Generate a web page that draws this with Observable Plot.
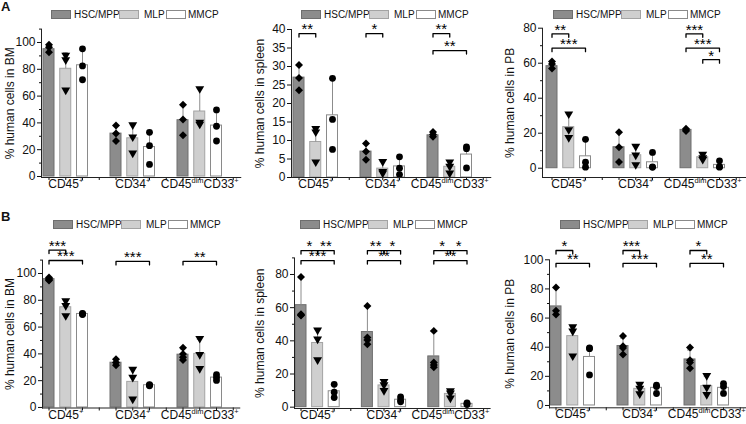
<!DOCTYPE html>
<html>
<head>
<meta charset="utf-8">
<script src="https://cdn.jsdelivr.net/npm/d3@7"></script>
<script src="https://cdn.jsdelivr.net/npm/@observablehq/plot@0.6"></script>
<style>
  html, body { margin: 0; padding: 0; background: #fff; overflow: hidden; }
  #root { position: relative; width: 746px; height: 424px; overflow: hidden; font-family: "Liberation Sans", Arial, sans-serif; color: #111; }
  .panel { position: absolute; }
  .panel svg { position: absolute; left: 0; top: 0; overflow: visible; }
  .legend { position: absolute; height: 10px; font-size: 10px; }
  .legend .sw { position: absolute; top: 0; width: 20px; height: 9px; box-sizing: border-box; border: 1px solid #888; }
  .legend .tx { position: absolute; top: -1px; line-height: 11px; white-space: nowrap; }
  .tag { position: absolute; font-weight: bold; font-size: 13px; line-height: 13px; }
</style>
</head>
<body>
<div id="root"></div>
<script>
// ---------- data ----------
const groups = ["CD45^+", "CD34^+", "CD45^dim^CD33^+"];
const series = ["HSC/MPP", "MLP", "MMCP"];

// Panel A — BM
const bmA_mean = [[95, 80.4, 83], [32, 28.5, 22], [42, 48.5, 38]];
const bmA_sd = [[3, 12, 11.5], [6, 10, 12], [11, 17, 12]];
const bmA_pts = [
  [[98.3, 96.5, 92.8], [90.5, 87, 64.5], [95.3, 82.5, 72.2]],
  [[38, 32, 26.5], [38.5, 29.5, 17.5], [33, 23, 9]],
  [[53.5, 42.5, 30.8], [65.5, 40.5, 39], [49.7, 37.5, 26.5]]
];
// Panel A — spleen
const spA_mean = [[27, 9.6, 16.8], [7, 2.4, 3], [11.4, 2.9, 6.2]];
const spA_sd = [[3.4, 3.4, 10], [2.2, 2, 2.7], [0.8, 1.6, 2.5]];
const spA_pts = [
  [[30.4, 26.9, 23.6], [13.2, 12.3, 4.2], [26.8, 15.7, 7.6]],
  [[9.2, 7, 4.8], [4.3, 1.6, 1.2], [5.6, 2.5, 0.8]],
  [[12.3, 11.6, 11], [4.2, 3, 1.2], [8.3, 7.8, 2.6]]
];
const spA_brackets = [[0, 0, 1, 38.9, "**"], [1, 0, 1, 38.9, "*"], [2, 0, 1, 38.9, "**"], [2, 0, 2, 34.3, "**"]];
// Panel A — PB
const pbA_mean = [[58.3, 23.5, 6.8], [12, 7.4, 3.4], [21.9, 6.3, 1.9]];
const pbA_sd = [[2.5, 7.5, 9.8], [8.5, 5.4, 5], [0.6, 1.6, 2.2]];
const pbA_pts = [
  [[61, 59.5, 57], [31, 22, 17.5], [16.5, 3.4, 0.6]],
  [[20.5, 12, 3.5], [12.5, 7.5, 2], [9, 0.8, 0.5]],
  [[22.6, 21.9, 21.3], [8, 6, 5], [4.2, 0.9, 0.6]]
];
const pbA_brackets = [[0, 0, 1, 76.8, "**"], [0, 0, 2, 68.6, "***"], [2, 0, 1, 76.8, "***"], [2, 0, 2, 68.6, "***"], [2, 1, 2, 62, "*"]];

// Panel B — BM
const bmB_mean = [[95.8, 74.8, 69.8], [33.4, 19.1, 16.6], [39.4, 40, 22.3]];
const bmB_sd = [[0.8, 5.5, 0.5], [2, 10.5, 0.5], [4.2, 11, 1.8]];
const bmB_pts = [
  [[97, 96, 95.3, 94.8], [79.7, 76, 68.5], [70.2, 69.8, 69.4]],
  [[36, 33.5, 31.5], [28.5, 22.5, 6.3], [17, 16.6, 16.2]],
  [[44.5, 40, 37.5, 35.5], [51.5, 39.5, 29], [24.5, 22.3, 20.2]]
];
const bmB_brackets = [[0, 0, 1, 117.5, "***"], [0, 0, 2, 109.7, "***"], [1, 0, 2, 109, "***"], [2, 0, 2, 109, "**"]];
// Panel B — spleen
const spB_mean = [[61.5, 38.7, 9.6], [45.3, 13.1, 4.5], [30.6, 8, 2]];
const spB_sd = [[16.5, 8.5, 4], [15.5, 2.8, 1.6], [15.4, 2.4, 0.6]];
const spB_pts = [
  [[78.5, 56, 55.5, 55.2], [46.5, 41, 28.5], [13.8, 9, 5.8]],
  [[61, 42, 40.5, 38], [15.5, 13.5, 10], [6.2, 4.2, 3.2]],
  [[46, 27, 25.5, 24], [9.8, 8.5, 5.5], [2.6, 2, 1.6]]
];
const spB_brackets = [[0, 0, 1, 94.4, "*"], [0, 1, 2, 94.4, "**"], [0, 0, 2, 88.4, "***"],
  [1, 0, 1, 94.4, "**"], [1, 1, 2, 94.4, "*"], [1, 0, 2, 88.4, "**"],
  [2, 0, 1, 94.4, "*"], [2, 1, 2, 94.4, "*"], [2, 0, 2, 88.4, "**"]];
// Panel B — PB
const pbB_mean = [[68, 47.6, 33.3], [40.8, 11.4, 12.1], [31.6, 13.3, 12.1]];
const pbB_sd = [[13, 6.5, 6.5], [5.5, 3, 2.5], [6.5, 6.5, 3]];
const pbB_pts = [
  [[81, 65, 62.5], [54, 51, 34], [39.5, 39, 21]],
  [[47.7, 40.7, 39.5, 35], [14.5, 11.8, 8], [13.9, 13, 8.2]],
  [[39.8, 31, 29.5, 25.5], [20.5, 12.5, 7.5], [15, 13, 8.3]]
];
const pbB_brackets = [[0, 0, 1, 106.4, "*"], [0, 0, 2, 97.5, "**"], [1, 0, 1, 106.4, "***"], [1, 0, 2, 97.5, "***"], [2, 0, 1, 106.4, "*"], [2, 0, 2, 97.5, "**"]];

// tick values
const bmTicks = [0, 20, 40, 60, 80, 100], bmMinor = [10, 30, 50, 70, 90, 110];
const spATicks = [0, 5, 10, 15, 20, 25, 30, 35, 40];
const pbATicks = [0, 20, 40, 60, 80], pbAMinor = [10, 30, 50, 70];
const spBTicks = [0, 20, 40, 60, 80], spBMinor = [10, 30, 50, 70, 90];
const pbBTicks = [0, 20, 40, 60, 80, 100], pbBMinor = [10, 30, 50, 70, 90];

// ---------- styles ----------
const fills = ["#8c8c8c", "#cfcfcf", "#ffffff"];
const strokes = ["#6e6e6e", "#a3a3a3", "#8a8a8a"];
const symbols = ["diamond2", "triangle", "circle"];
const rotates = [0, 180, 0];
const radii = [3.6, 3.3, 3.4];

const panels = [
  {tag: "A", left: 0, top: 0, H: 210, mean: bmA_mean, sd: bmA_sd, pts: bmA_pts, brackets: [], ylabel: "% human cells in BM",
   yDomain: [-0.75, 110], ticks: bmTicks, minor: bmMinor, axisX: 41, barStart: 43, step: 16.75, bw: 11, topPx: 28.6, bottomPx: 177, legendX: 51, legendY: 10},
  {left: 250, top: 0, H: 210, mean: spA_mean, sd: spA_sd, pts: spA_pts, brackets: spA_brackets, ylabel: "% human cells in spleen",
   yDomain: [0, 40], ticks: spATicks, minor: [], axisX: 41, barStart: 43, step: 16.75, bw: 11, topPx: 29, bottomPx: 177, legendX: 51, legendY: 10},
  {left: 500, top: 0, H: 210, mean: pbA_mean, sd: pbA_sd, pts: pbA_pts, brackets: pbA_brackets, ylabel: "% human cells in PB",
   yDomain: [-5.3, 80], ticks: pbATicks, minor: pbAMinor, axisX: 42, barStart: 46, step: 16.75, bw: 11, topPx: 27.7, bottomPx: 177, legendX: 53, legendY: 10},
  {tag: "B", left: 0, top: 210, H: 214, mean: bmB_mean, sd: bmB_sd, pts: bmB_pts, brackets: bmB_brackets, ylabel: "% human cells in BM",
   yDomain: [-0.4, 110], ticks: bmTicks, minor: bmMinor, axisX: 42, barStart: 43, step: 16.75, bw: 11, topPx: 49.6, bottomPx: 197.5, legendX: 53, legendY: 10},
  {left: 250, top: 210, H: 214, mean: spB_mean, sd: spB_sd, pts: spB_pts, brackets: spB_brackets, ylabel: "% human cells in spleen",
   yDomain: [-0.8, 90], ticks: spBTicks, minor: spBMinor, axisX: 44, barStart: 45, step: 16.6, bw: 11, topPx: 47.4, bottomPx: 198, legendX: 50, legendY: 10},
  {left: 500, top: 210, H: 214, mean: pbB_mean, sd: pbB_sd, pts: pbB_pts, brackets: pbB_brackets, ylabel: "% human cells in PB",
   yDomain: [-1.6, 100], ticks: pbBTicks, minor: pbBMinor, axisX: 49, barStart: 50, step: 16.75, bw: 11, topPx: 49.3, bottomPx: 197.3, legendX: 60, legendY: 10}
];

const key = (gi, si) => `${gi}|${si}`;
const slots = [];
groups.forEach((g, gi) => { [0, 1, 2, 3].forEach(si => slots.push(key(gi, si))); });

function supify(root) {
  root.querySelectorAll("text").forEach(t => {
    const targets = t.querySelector("tspan") ? [...t.querySelectorAll("tspan")] : [t];
    targets.forEach(n => {
      const s = n.textContent;
      if (!s.includes("^")) return;
      const parts = s.split("^");
      n.textContent = "";
      let raised = false;
      parts.forEach((p, i) => {
        if (p === "") return;
        const ts = document.createElementNS("http://www.w3.org/2000/svg", "tspan");
        ts.textContent = p;
        if (i % 2 === 1) {
          ts.setAttribute("font-size", "7.5");
          ts.setAttribute("dy", "-5");
          raised = true;
        } else if (raised) {
          ts.setAttribute("dy", "5");
          raised = false;
        }
        n.appendChild(ts);
      });
    });
  });
}

function makePanel(P) {
  const W = 250;
  const pI = 1 - P.bw / P.step;
  const pO = (P.barStart - P.axisX) / P.step;
  const rangeLen = P.step * (slots.length - pI + 2 * pO);
  const marginRight = W - P.axisX - rangeLen;

  const bars = [];
  const points = [];
  P.mean.forEach((row, gi) => row.forEach((m, si) => {
    bars.push({slot: key(gi, si), si, mean: m, sd: P.sd[gi][si]});
    P.pts[gi][si].forEach(v => points.push({slot: key(gi, si), si, v}));
  }));

  const pxPerUnit = (P.bottomPx - P.topPx) / (P.yDomain[1] - P.yDomain[0]);
  const drop = 3.5 / pxPerUnit;
  const bracketLines = [];
  const bracketLabels = [];
  P.brackets.forEach(([gi, a, b, lvl, label], id) => {
    bracketLines.push({id, slot: key(gi, a), y: lvl - drop});
    bracketLines.push({id, slot: key(gi, a), y: lvl});
    bracketLines.push({id, slot: key(gi, b), y: lvl});
    bracketLines.push({id, slot: key(gi, b), y: lvl - drop});
    bracketLabels.push({slot: key(gi, a), y: lvl, label, span: b - a});
  });
  const spans = [...new Set(bracketLabels.map(d => d.span))];

  const marks = [];
  [0, 1, 2].forEach(si => {
    marks.push(Plot.barY(bars.filter(d => d.si === si), {x: "slot", y: "mean", fill: fills[si], stroke: strokes[si], strokeWidth: 1}));
  });
  marks.push(Plot.ruleX(bars, {x: "slot", y1: "mean", y2: d => d.mean + d.sd, stroke: "#8c8c8c", strokeWidth: 1}));
  marks.push(Plot.tickY(bars, {x: "slot", y: d => d.mean + d.sd, stroke: "#8c8c8c", strokeWidth: 1, insetLeft: 3, insetRight: 3}));
  [0, 1, 2].forEach(si => {
    marks.push(Plot.dot(points.filter(d => d.si === si), {x: "slot", y: "v", symbol: symbols[si], r: radii[si], rotate: rotates[si], fill: "#000", stroke: "none"}));
  });
  if (bracketLines.length) {
    marks.push(Plot.line(bracketLines, {x: "slot", y: "y", z: "id", stroke: "#000", strokeWidth: 1.3, curve: "linear"}));
  }
  spans.forEach(sp => {
    marks.push(Plot.text(bracketLabels.filter(d => d.span === sp), {x: "slot", y: "y", text: "label", dx: sp * P.step / 2, dy: -4, fontSize: 15, fill: "#000"}));
  });
  marks.push(Plot.axisY({ticks: P.ticks, tickSize: 4, tickPadding: 2, fontSize: 12, label: P.ylabel, labelAnchor: "center", labelArrow: "none", labelOffset: P.axisX - 5}));
  if (P.minor.length) marks.push(Plot.axisY({ticks: P.minor, tickSize: 2, tickFormat: () => "", label: null}));
  marks.push(Plot.axisX({ticks: slots, tickSize: 3, tickPadding: -1, fontSize: 12, label: null,
    tickFormat: k => { const [gi, si] = k.split("|"); return si === "1" ? groups[+gi] : ""; }}));
  marks.push(Plot.frame({anchor: "left", stroke: "#222"}));
  marks.push(Plot.frame({anchor: "bottom", stroke: "#222"}));

  const svg = Plot.plot({
    width: W, height: P.H,
    marginLeft: P.axisX, marginRight, marginTop: P.topPx, marginBottom: P.H - P.bottomPx,
    style: {fontFamily: "Liberation Sans, Arial, sans-serif", fontSize: "12px", color: "#111", background: "transparent", overflow: "visible"},
    x: {type: "band", domain: slots, paddingInner: pI, paddingOuter: pO, align: 0.5, round: false, axis: null},
    y: {domain: P.yDomain, axis: null},
    marks
  });
  supify(svg);

  const div = document.createElement("div");
  div.className = "panel";
  div.style.left = P.left + "px";
  div.style.top = P.top + "px";
  div.style.width = W + "px";
  div.style.height = P.H + "px";
  div.appendChild(svg);

  // legend (HTML, above the plot area)
  const lg = document.createElement("div");
  lg.className = "legend";
  lg.style.left = P.legendX + "px";
  lg.style.top = P.legendY + "px";
  const offsets = [[0, 23], [68, 93], [115, 137]];
  series.forEach((s, si) => {
    const sw = document.createElement("div");
    sw.className = "sw";
    sw.style.left = offsets[si][0] + "px";
    sw.style.background = fills[si];
    sw.style.borderColor = strokes[si];
    lg.appendChild(sw);
    const tx = document.createElement("div");
    tx.className = "tx";
    tx.style.left = offsets[si][1] + "px";
    tx.textContent = s;
    lg.appendChild(tx);
  });
  div.appendChild(lg);

  if (P.tag) {
    const t = document.createElement("div");
    t.className = "tag";
    t.style.left = "1px";
    t.style.top = "0px";
    t.textContent = P.tag;
    div.appendChild(t);
  }
  return div;
}

const root = document.getElementById("root");
panels.forEach(P => root.appendChild(makePanel(P)));
</script>
</body>
</html>
